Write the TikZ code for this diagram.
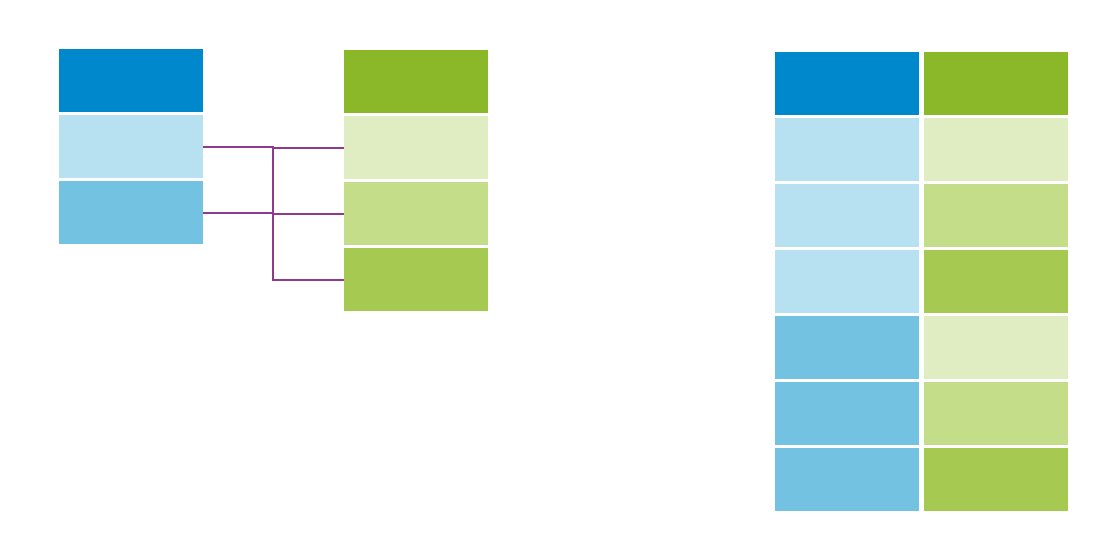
\documentclass[tikz,border=0pt]{standalone}
\usepackage{xcolor}
\usepackage{tikz}
\usetikzlibrary{positioning}

\definecolor{keyblue}{HTML}{0088CC}
\definecolor{paleblue}{HTML}{B7E1F0}
\definecolor{midblue}{HTML}{73C2E2}
\definecolor{keygreen}{HTML}{8AB829}
\definecolor{palegreen}{HTML}{E0EDC2}
\definecolor{midgreen}{HTML}{C4DD88}
\definecolor{deepgreen}{HTML}{A6CA51}
\definecolor{joinpurple}{HTML}{8E3A8E}

\begin{document}
\begin{tikzpicture}[
    x=0.5pt, y=-0.5pt,
    node distance=1.5pt,
    cell/.style={rectangle, minimum width=72pt, minimum height=31.5pt, inner sep=0pt, outer sep=0pt},
    joinline/.style={draw=joinpurple, line width=1pt}
]
\useasboundingbox[fill=white] (0,0) rectangle (1120,559);

% Left table
\node[cell, fill=keyblue] (a0) at (131,80.5) {};
\node[cell, fill=paleblue, below=of a0] (a1) {};
\node[cell, fill=midblue, below=of a1] (a2) {};

% Middle table
\node[cell, fill=keygreen] (m0) at (416,81.5) {};
\node[cell, fill=palegreen, below=of m0] (m1) {};
\node[cell, fill=midgreen, below=of m1] (m2) {};
\node[cell, fill=deepgreen, below=of m2] (m3) {};

% Result table - left column
\node[cell, fill=keyblue] (r0) at (847,83.5) {};
\node[cell, fill=paleblue, below=of r0] (r1) {};
\node[cell, fill=paleblue, below=of r1] (r2) {};
\node[cell, fill=paleblue, below=of r2] (r3) {};
\node[cell, fill=midblue, below=of r3] (r4) {};
\node[cell, fill=midblue, below=of r4] (r5) {};
\node[cell, fill=midblue, below=of r5] (r6) {};

% Result table - right column
\node[cell, fill=keygreen, right=2.5pt of r0] (g0) {};
\node[cell, fill=palegreen, below=of g0] (g1) {};
\node[cell, fill=midgreen, below=of g1] (g2) {};
\node[cell, fill=deepgreen, below=of g2] (g3) {};
\node[cell, fill=palegreen, below=of g3] (g4) {};
\node[cell, fill=midgreen, below=of g4] (g5) {};
\node[cell, fill=deepgreen, below=of g5] (g6) {};

% Join lines
\coordinate (split) at (273,0);
\foreach \l in {a1,a2}
  \foreach \m in {m1,m2,m3}
    \draw[joinline] (\l.east) -- (\l.east -| split) |- (\m.west);

\end{tikzpicture}
\end{document}
